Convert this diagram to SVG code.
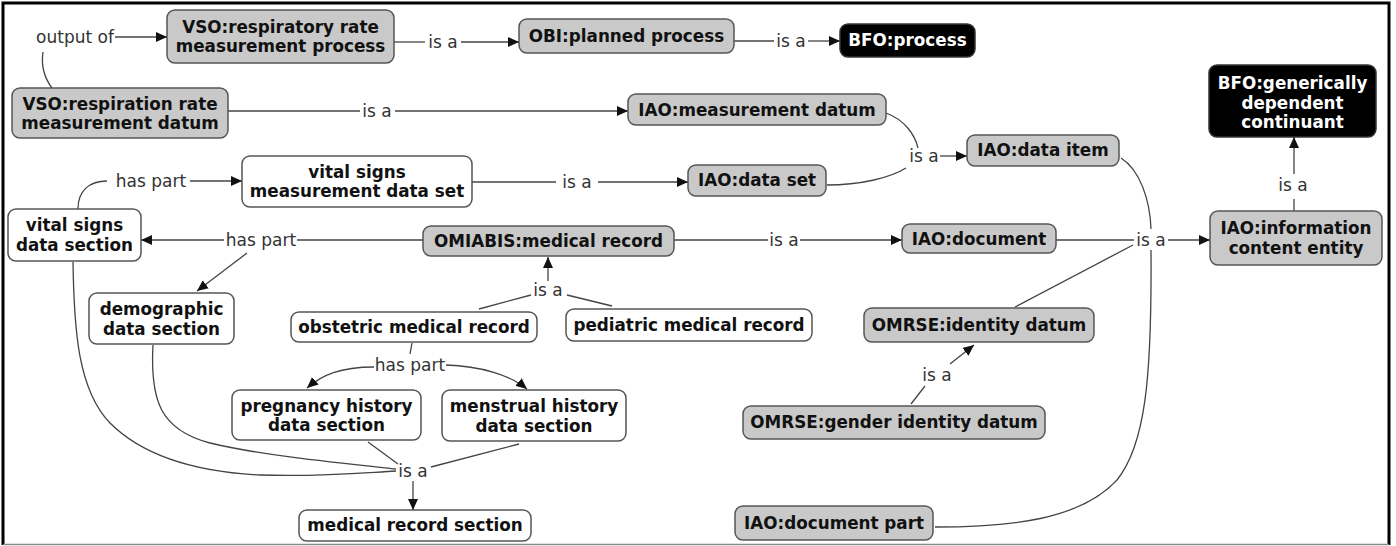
<svg xmlns="http://www.w3.org/2000/svg" width="1396" height="546" viewBox="0 0 1396 546">
<defs>
<style>
.g rect{fill:#c9c9c9;stroke:#555;stroke-width:1.5}
.w rect{fill:#fff;stroke:#555;stroke-width:1.5}
.k rect{fill:#000;stroke:#333;stroke-width:1.5}
.n text{font-family:"DejaVu Sans",Verdana,sans-serif;font-weight:bold;font-size:16.8px;text-anchor:middle;fill:#111}
.k text{fill:#fff}
.c path{fill:none;stroke:#444;stroke-width:1.3}
.c .a{marker-end:url(#ah)}
.l{font-family:"DejaVu Sans",Verdana,sans-serif;font-size:17px;fill:#333;text-anchor:middle}
</style>
<marker id="ah" markerUnits="userSpaceOnUse" markerWidth="12" markerHeight="10" refX="11" refY="5" orient="auto"><path d="M0,0 L11,5 L0,10 z" fill="#111"/></marker>
</defs>
<rect x="0" y="0" width="1396" height="546" fill="#fff"/>
<path d="M3,545 L3,3 L1389,3 L1389,545" fill="none" stroke="#000" stroke-width="3"/>
<path d="M3,544.5 L1389,544.5" stroke="#888" stroke-width="1.5"/>

<g id="connectors" class="c">
<path d="M52,88 Q40,72 43,52"/>
<path class="a" d="M115,37 L167,37"/>
<path d="M394,42 L425,42"/>
<path class="a" d="M461,42 L519,42"/>
<path d="M734,41 L774,41"/>
<path class="a" d="M808,41 L840,41"/>
<path d="M228,111 L360,111"/>
<path class="a" d="M395,111 L628,111"/>
<path d="M886,113 C905,120 915,135 918,148"/>
<path d="M827,185 C860,185 890,178 906,168"/>
<path class="a" d="M940,156 L967,156"/>
<path d="M78,209 C78,190 90,181 107,181"/>
<path class="a" d="M190,181 L242,181"/>
<path d="M472,182 L556,182"/>
<path class="a" d="M598,182 L688,182"/>
<path d="M423,240 L297,240"/>
<path class="a" d="M224,240 L141,240"/>
<path class="a" d="M247,253 L197,291"/>
<path d="M674,240 L768,240"/>
<path class="a" d="M800,240 L902,240"/>
<path d="M1056,240 L1134,240"/>
<path class="a" d="M1168,240 L1210,240"/>
<path d="M1121,158 C1140,170 1150,200 1151,229"/>
<path d="M1015,307 L1133,245"/>
<path d="M935,527 C1010,527 1080,520 1117,480 C1145,445 1152,380 1151,250"/>
<path class="a" d="M548,281 L548,257"/>
<path d="M479,309 L531,295"/>
<path d="M612,306 L567,295"/>
<path d="M412,343 L410,354"/>
<path class="a" d="M374,367 C340,367 322,375 307,388"/>
<path class="a" d="M446,365 C480,366 510,375 527,389"/>
<path d="M368,442 L398,464"/>
<path d="M519,444 L431,467"/>
<path d="M153,345 C150,400 160,430 210,443 C260,455 330,462 396,469"/>
<path d="M73,262 C74,330 78,390 110,423 C145,458 200,472 260,475 C320,477 360,473 396,471"/>
<path class="a" d="M413,481 L413,510"/>
<path d="M911,404 L925,386"/>
<path class="a" d="M950,364 L974,345"/>
<path d="M1294,211 L1294,199"/>
<path class="a" d="M1294,174 L1294,137"/>
<text class="l" x="75" y="43">output of</text>
<text class="l" x="443" y="47.5">is a</text>
<text class="l" x="791" y="46.5">is a</text>
<text class="l" x="377" y="116.5">is a</text>
<text class="l" x="924" y="162">is a</text>
<text class="l" x="151" y="186.5">has part</text>
<text class="l" x="577" y="188">is a</text>
<text class="l" x="261" y="245.5">has part</text>
<text class="l" x="784" y="245.5">is a</text>
<text class="l" x="1151" y="245.5">is a</text>
<text class="l" x="548" y="296">is a</text>
<text class="l" x="410" y="371">has part</text>
<text class="l" x="413" y="477">is a</text>
<text class="l" x="937" y="381">is a</text>
<text class="l" x="1293" y="191">is a</text>
</g>

<g id="n1" class="n g"><rect x="167" y="10" width="227" height="53" rx="8"/><text x="280.5" y="32.5">VSO:respiratory rate<tspan x="280.5" y="51.5">measurement process</tspan></text></g>
<g id="n2" class="n g"><rect x="519" y="19" width="215" height="34" rx="8"/><text x="626.5" y="41.5">OBI:planned process</text></g>
<g id="n3" class="n k"><rect x="840" y="24" width="135" height="33" rx="8"/><text x="907.5" y="46">BFO:process</text></g>
<g id="n4" class="n g"><rect x="12" y="88" width="216" height="50" rx="8"/><text x="120" y="109.5">VSO:respiration rate<tspan x="120" y="128.5">measurement datum</tspan></text></g>
<g id="n5" class="n g"><rect x="628" y="94" width="258" height="31" rx="8"/><text x="757" y="115.5">IAO:measurement datum</text></g>
<g id="n6" class="n g"><rect x="967" y="135" width="152" height="31" rx="8"/><text x="1043" y="156">IAO:data item</text></g>
<g id="n7" class="n k"><rect x="1209" y="65" width="167" height="72" rx="8"/><text x="1292.5" y="89">BFO:generically<tspan x="1292.5" y="108.5">dependent</tspan><tspan x="1292.5" y="128">continuant</tspan></text></g>
<g id="n8" class="n g"><rect x="1210" y="211" width="172" height="54" rx="8"/><text x="1296" y="234">IAO:information<tspan x="1296" y="253.5">content entity</tspan></text></g>
<g id="n9" class="n w"><rect x="242" y="156" width="230" height="51" rx="8"/><text x="357" y="177.5">vital signs<tspan x="357" y="197">measurement data set</tspan></text></g>
<g id="n10" class="n g"><rect x="688" y="165" width="138" height="31" rx="8"/><text x="757" y="186">IAO:data set</text></g>
<g id="n11" class="n w"><rect x="8" y="209" width="133" height="52" rx="8"/><text x="74.5" y="231">vital signs<tspan x="74.5" y="250.5">data section</tspan></text></g>
<g id="n12" class="n g"><rect x="423" y="226" width="251" height="30" rx="8"/><text x="548.5" y="246.5">OMIABIS:medical record</text></g>
<g id="n13" class="n g"><rect x="902" y="224" width="154" height="29" rx="8"/><text x="979" y="244.5">IAO:document</text></g>
<g id="n14" class="n w"><rect x="89" y="293" width="145" height="51" rx="8"/><text x="161.5" y="315">demographic<tspan x="161.5" y="334.5">data section</tspan></text></g>
<g id="n15" class="n w"><rect x="291" y="312" width="246" height="30" rx="8"/><text x="414" y="332.5">obstetric medical record</text></g>
<g id="n16" class="n w"><rect x="566" y="309" width="246" height="32" rx="8"/><text x="689" y="330.5">pediatric medical record</text></g>
<g id="n17" class="n g"><rect x="864" y="308" width="230" height="34" rx="8"/><text x="979" y="330.5">OMRSE:identity datum</text></g>
<g id="n18" class="n w"><rect x="232" y="390" width="189" height="50" rx="8"/><text x="326.5" y="411.5">pregnancy history<tspan x="326.5" y="431">data section</tspan></text></g>
<g id="n19" class="n w"><rect x="442" y="390" width="184" height="51" rx="8"/><text x="534" y="412">menstrual history<tspan x="534" y="431.5">data section</tspan></text></g>
<g id="n20" class="n g"><rect x="743" y="406" width="302" height="33" rx="8"/><text x="894" y="428">OMRSE:gender identity datum</text></g>
<g id="n21" class="n w"><rect x="299" y="510" width="232" height="31" rx="8"/><text x="415" y="531">medical record section</text></g>
<g id="n22" class="n g"><rect x="735" y="506" width="198" height="34" rx="8"/><text x="834" y="528.5">IAO:document part</text></g>
</svg>
